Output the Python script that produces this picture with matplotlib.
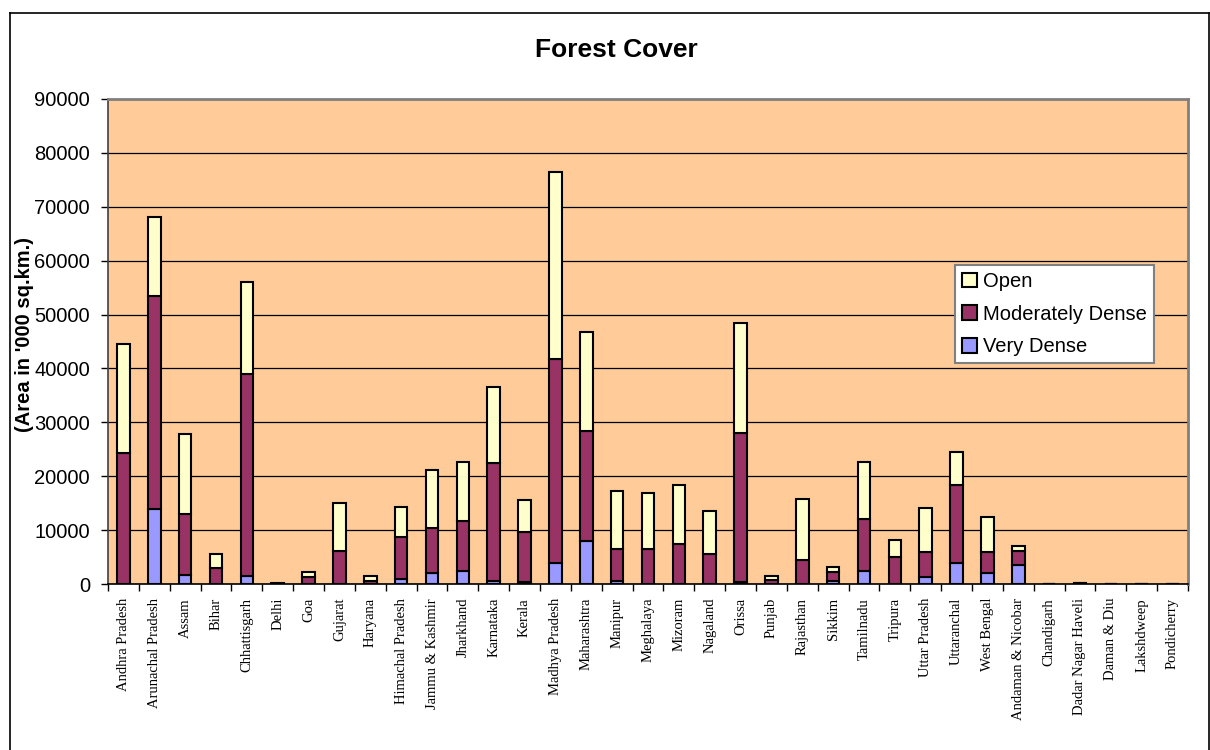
import numpy as np
import matplotlib.pyplot as plt
from matplotlib.lines import Line2D

states = ['Andhra Pradesh', 'Arunachal Pradesh', 'Assam', 'Bihar', 'Chhattisgarh',
          'Delhi', 'Goa', 'Gujarat', 'Haryana', 'Himachal Pradesh', 'Jammu & Kashmir',
          'Jharkhand', 'Karnataka', 'Kerala', 'Madhya Pradesh', 'Maharashtra',
          'Manipur', 'Meghalaya', 'Mizoram', 'Nagaland', 'Orissa', 'Punjab',
          'Rajasthan', 'Sikkim', 'Tamilnadu', 'Tripura', 'Uttar Pradesh',
          'Uttaranchal', 'West Bengal', 'Andaman & Nicobar', 'Chandigarh',
          'Dadar Nagar Haveli', 'Daman & Diu', 'Lakshdweep', 'Pondicherry']

very_dense = [0, 13870, 1610, 0, 1490,
              0, 0, 0, 0, 1000, 2100,
              2480, 560, 400, 3960, 8050,
              620, 0, 0, 0, 300, 0,
              0, 500, 2410, 0, 1240,
              3840, 2110, 3480, 0,
              0, 0, 0, 0]
moderately_dense = [24400, 39630, 11390, 3030, 37460,
                    50, 1360, 6190, 600, 7790, 8300,
                    9290, 21850, 9200, 37770, 20250,
                    5880, 6500, 7370, 5570, 27810, 740,
                    4520, 1790, 9600, 4950, 4640,
                    14550, 3850, 2670, 0,
                    110, 0, 0, 0]
open_forest = [20120, 14550, 14800, 2540, 17020,
               120, 870, 8790, 950, 5580, 10780,
               10890, 14060, 6000, 34680, 18510,
               10710, 10400, 11080, 7990, 20250, 810,
               11270, 930, 10590, 3160, 8240,
               6070, 6460, 930, 0,
               110, 0, 0, 0]

c_open = '#FFFFCC'
c_md = '#993366'
c_vd = '#9999FF'
bg = '#FFCC99'

plt.rcParams['font.family'] = ['Liberation Sans', 'DejaVu Sans']

fig = plt.figure(figsize=(12.1, 7.5), dpi=100)
ax = fig.add_axes([108 / 1210, 1 - 584 / 750, 1080 / 1210, 485 / 750])
ax.set_facecolor(bg)

x = np.arange(len(states))
vd = np.array(very_dense)
md = np.array(moderately_dense)
op = np.array(open_forest)
w = 0.41
kw = dict(width=w, edgecolor='black', linewidth=1.5, zorder=3)
b_vd = ax.bar(x, vd, color=c_vd, label='Very Dense', **kw)
b_md = ax.bar(x, md, bottom=vd, color=c_md, label='Moderately Dense', **kw)
b_op = ax.bar(x, op, bottom=vd + md, color=c_open, label='Open', **kw)

ax.set_xlim(-0.5, len(states) - 0.5)
ax.set_ylim(0, 90000)
ax.set_yticks(np.arange(0, 90001, 10000))
ax.yaxis.grid(True, color='black', linewidth=0.9, zorder=1)
ax.set_axisbelow(True)
ax.tick_params(axis='y', labelsize=14.5, length=5, width=1, direction='out', pad=8)

# category labels centred, tick marks between categories
ax.set_xticks(x)
ax.set_xticklabels(states, rotation=90, fontsize=10.5, family=['Liberation Serif'])
ax.tick_params(axis='x', which='major', length=0, pad=10)
ax.set_xticks(np.arange(-0.5, len(states), 1), minor=True)
ax.tick_params(axis='x', which='minor', length=5, width=1, direction='out')

for s in ['top', 'right']:
    ax.spines[s].set_color('#808080')
    ax.spines[s].set_linewidth(2)
ax.spines['left'].set_color('#404040')
ax.spines['left'].set_linewidth(1.2)
ax.spines['bottom'].set_color('black')
ax.spines['bottom'].set_linewidth(1.2)

fig.text(25 / 1210, 1 - 335 / 750, "(Area in '000 sq.km.)", rotation=90,
         ha='center', va='center', fontsize=14.5, fontweight='bold')
fig.text(616 / 1210, 1 - 50 / 750, 'Forest Cover', ha='center', va='center',
         fontsize=19, fontweight='bold')

leg = ax.legend(handles=[b_op, b_md, b_vd], loc='upper left',
                bbox_to_anchor=((955 - 108) / 1080, (584 - 265) / 485),
                borderaxespad=0, fontsize=14.5, fancybox=False, framealpha=1,
                edgecolor='#808080', handlelength=0.75, handleheight=0.75,
                handletextpad=0.3, labelspacing=0.68, borderpad=0.35)
leg.get_frame().set_linewidth(1.5)
leg.set_zorder(5)

# outer chart frame
fx0, fx1, fy1 = 9.5 / 1210, 1209 / 1210, 1 - 13 / 750
for xs, ys in [([fx0, fx0], [-0.1, fy1]), ([fx0, fx1], [fy1, fy1]), ([fx1, fx1], [fy1, -0.1])]:
    fig.add_artist(Line2D(xs, ys, color='black', linewidth=1.2, transform=fig.transFigure))

fig.savefig('out.png', dpi=100)
